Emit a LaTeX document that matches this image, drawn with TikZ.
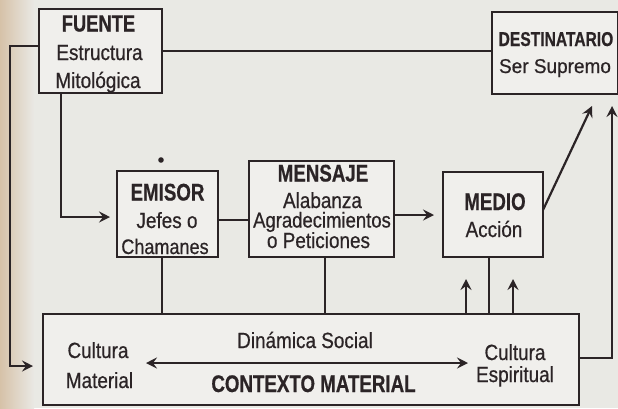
\documentclass[tikz,border=0pt]{standalone}
\usepackage{fontspec}
\setmainfont{Liberation Sans}[FakeStretch=0.86,FakeBold=0.6]
\newfontfamily\hfont{Liberation Sans}[FakeStretch=0.78,FakeBold=0.6]
\newfontfamily\wfont{Liberation Sans}[FakeStretch=0.95,FakeBold=0.6]
\usetikzlibrary{arrows.meta}
\definecolor{ink}{rgb}{0.17,0.14,0.15}
\definecolor{paper}{rgb}{0.915,0.912,0.895}
\definecolor{beige}{rgb}{0.84,0.76,0.66}
\tikzset{
  box/.style={draw=ink, line width=2.4pt, inner sep=0pt, outer sep=0pt, fill=paper!70!white},
  conn/.style={draw=ink, line width=2.2pt},
  tipb/.tip={Stealth[length=11pt,width=11pt,inset=4pt]},
  arr/.style={conn, -tipb},
  darr/.style={conn, tipb-tipb},
  txt/.style={inner sep=0pt, anchor=base, text=ink, font=\fontsize{22}{24}\selectfont},
  hd/.style={inner sep=0pt, anchor=base, text=ink, font=\hfont\bfseries\fontsize{24}{26}\selectfont},
}
\begin{document}
\begin{tikzpicture}[x=1pt,y=-1pt]
\useasboundingbox (0,0) rectangle (618,408);
\fill[paper] (0,0) rectangle (618,408);
\shade[left color=beige, right color=paper] (0,0) rectangle (34,408);

% boxes
\node[box, minimum width=123pt, minimum height=84pt] (fuente) at (100.5,51) {};
\node[box, minimum width=126pt, minimum height=82pt] (dest) at (555,53) {};
\node[box, minimum width=101pt, minimum height=86pt] (emisor) at (167.5,214) {};
\node[box, minimum width=145pt, minimum height=96pt] (mensaje) at (321.5,209) {};
\node[box, minimum width=100pt, minimum height=85pt] (medio) at (493,214.5) {};
\node[box, minimum width=536pt, minimum height=91pt] (ctx) at (311,359.5) {};

% texts
\node[hd, font=\hfont\bfseries\fontsize{23.5}{26}\selectfont] (fuenteh) at (98.5,31.5) {FUENTE};
\node[txt] (fuente1) at (99.5,60) {Estructura};
\node[txt] (fuente2) at (98,88) {Mitológica};

\node[hd] (emisorh) at (167.5,200.5) {EMISOR};
\node[txt] (emisor1) at (167,228) {Jefes o};
\node[txt, font=\fontsize{21}{24}\selectfont] (emisor2) at (165,254) {Chamanes};

\node[hd] (mensajeh) at (323,181.5) {MENSAJE};
\node[txt] (mensaje1) at (322.5,208) {Alabanza};
\node[txt, font=\fontsize{21.5}{24}\selectfont] (mensaje2) at (322,227.5) {Agradecimientos};
\node[txt] (mensaje3) at (318.5,248) {o Peticiones};

\node[hd] (medioh) at (495,210) {MEDIO};
\node[txt] (medio1) at (494,237) {Acción};

\node[hd, font=\hfont\bfseries\fontsize{20}{22}\selectfont] (desth) at (556,46) {DESTINATARIO};
\node[txt, font=\wfont\fontsize{20}{24}\selectfont] (dest1) at (555,73) {Ser Supremo};

\node[txt] (cm1) at (98,358) {Cultura};
\node[txt] (cm2) at (99.5,388) {Material};
\node[txt] (ds) at (305,348) {Dinámica Social};
\node[hd] (ctxh) at (313.5,392) {CONTEXTO MATERIAL};
\node[txt] (ce1) at (515,360) {Cultura};
\node[txt] (ce2) at (515,382) {Espiritual};

% free ends
\coordinate (inA) at (33,366);
\coordinate (inE) at (110,217);
\coordinate (inM) at (434,215);
\coordinate (inD1) at (592,106);
\coordinate (inD2) at (612,106);
\coordinate (up1) at (466,279);
\coordinate (up2) at (513,279);
\coordinate (dl) at (146,363);
\coordinate (dr) at (468,363);

% connectors
\draw[arr] ([yshift=5pt]fuente.west) -- ++(-29,0) |- (inA);
\draw[conn] (fuente.east) -- (fuente.east -| dest.west);
\draw[arr] ([xshift=-39.5pt]fuente.south) |- (inE);
\draw[conn] ([yshift=-6pt]emisor.east) -- ([yshift=-6pt]emisor.east -| mensaje.west);
\draw[arr] ([yshift=-6pt]mensaje.east) -- (inM);
\draw[arr] ([yshift=4.5pt]medio.east) -- (inD1);
\draw[arr] ([yshift=1.5pt]ctx.east) -| (inD2);
\draw[conn] ([xshift=-5.5pt]emisor.south) -- ([xshift=-5.5pt]emisor.south |- ctx.north);
\draw[conn] ([xshift=3.5pt]mensaje.south) -- ([xshift=3.5pt]mensaje.south |- ctx.north);
\draw[conn] ([xshift=-4pt]medio.south) -- ([xshift=-4pt]medio.south |- ctx.north);
\draw[arr] (ctx.north -| up1) -- (up1);
\draw[arr] (ctx.north -| up2) -- (up2);
\draw[darr] (dl) -- (dr);
\fill[ink] (161,160) circle (2.8pt);
\end{tikzpicture}
\end{document}
